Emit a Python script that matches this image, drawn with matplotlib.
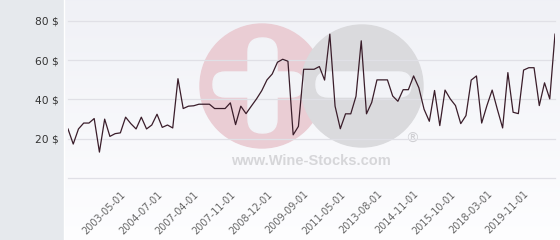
import numpy as np
import matplotlib
matplotlib.use('Agg')
import matplotlib.pyplot as plt
from matplotlib.patches import Circle, FancyBboxPatch, Rectangle

# price per bottle, one value per listing
prices = [25, 17.3, 25, 28, 28, 30.3, 13.2, 30, 21.2, 22.6,
          23, 31, 27.7, 25, 31, 25, 27, 32.5, 25.8, 27,
          25.5, 50.6, 35.4, 36.6, 36.8, 37.6, 37.6, 37.6, 35.4, 35.4,
          35.4, 38.3, 27.2, 36.6, 32.8, 36.6, 40.3, 44.5, 50, 53,
          59, 60.5, 59.5, 22, 26.3, 55.4, 55.4, 55.4, 56.8, 49.9,
          73.3, 36.6, 25.1, 32.7, 32.7, 41.7, 69.9, 32.7, 38.5, 50,
          50, 50, 41.8, 39.1, 45, 45, 52, 46, 35, 28.9,
          44.6, 26.7, 44.8, 40.3, 36.9, 27.7, 31.8, 49.9, 52, 28,
          36.9, 44.8, 34.9, 25.5, 53.7, 33.5, 32.8, 55, 56.2, 56.2,
          36.9, 48.5, 40.3, 73.3]

date_labels = ['2003-05-01', '2004-07-01', '2007-04-01', '2007-11-01',
               '2008-12-01', '2009-09-01', '2011-05-01', '2013-08-01',
               '2014-11-01', '2015-10-01', '2018-03-01', '2019-11-01']
first_label, label_step = 10, 7

y_ticks = [0, 20, 40, 60, 80]
y_labels = ['', '20 $', '40 $', '60 $', '80 $']

W, H = 560, 240
fig = plt.figure(figsize=(W / 100, H / 100), dpi=100)

# background: grey side panel, gradient plot panel, watermark
bg = fig.add_axes([0, 0, 1, 1])
bg.set_xlim(0, W)
bg.set_ylim(H, 0)
bg.axis('off')
grad = np.linspace(0, 1, 256).reshape(-1, 1)
top = np.array([0.941, 0.945, 0.965])
bot = np.array([0.995, 0.995, 1.0])
img = top + (bot - top) * grad[..., None]
bg.imshow(img, extent=[63, W, H, 0], aspect='auto', zorder=0)
bg.add_patch(Rectangle((0, 0), 63, H, color='#e6e9ed', zorder=1))
bg.plot([63.5, 63.5], [0, H], color='white', lw=1, zorder=2)

bg.add_patch(Circle((262, 86), 62, color='#eacdd4', zorder=2))
bg.add_patch(Circle((362, 86), 61, color='#dadadd', zorder=3))
bar_col = '#f2f3f7'
bg.add_patch(FancyBboxPatch((248, 38), 29, 95, boxstyle='round,pad=0,rounding_size=14',
                            color=bar_col, zorder=4))
bg.add_patch(FancyBboxPatch((213, 72), 90, 25, boxstyle='round,pad=0,rounding_size=12',
                            color=bar_col, zorder=4))
bg.add_patch(FancyBboxPatch((316, 72), 95, 25, boxstyle='round,pad=0,rounding_size=12',
                            color=bar_col, zorder=4))
bg.text(311, 161, 'www.Wine-Stocks.com', ha='center', va='center', fontsize=10.5,
        fontweight='bold', family='Liberation Sans', color='#d6d6d9', zorder=5)
bg.text(412, 139, '\u00ae', ha='center', va='center', fontsize=10,
        color='#cfcfd3', zorder=5)

# main chart
ax = fig.add_axes([68 / W, (H - 178) / H, (555 - 68) / W, (178 - 21) / H])
ax.patch.set_alpha(0)
x = np.arange(len(prices))
ax.plot(x, prices, color='#3a1d2a', lw=0.9, zorder=3)
ax.set_xlim(0, len(prices) - 1)
ax.set_ylim(0, 80)

ax.set_yticks(y_ticks)
ax.set_yticklabels(y_labels)
ax.grid(axis='y', color='#e0e0e6', lw=0.9)
for gl in ax.get_ygridlines():
    gl.set_clip_on(False)
tick_pos = [first_label + i * label_step for i in range(len(date_labels))]
ax.set_xticks(tick_pos)
ax.set_xticklabels(date_labels, rotation=45, ha='right', rotation_mode='anchor')
ax.tick_params(axis='y', length=0, pad=6.5, labelsize=7.7, labelcolor='#333333')
ax.tick_params(axis='x', length=0, pad=8, labelsize=7, labelcolor='#666666')
for s in ax.spines.values():
    s.set_visible(False)

fig.savefig('out.png', dpi=100)
